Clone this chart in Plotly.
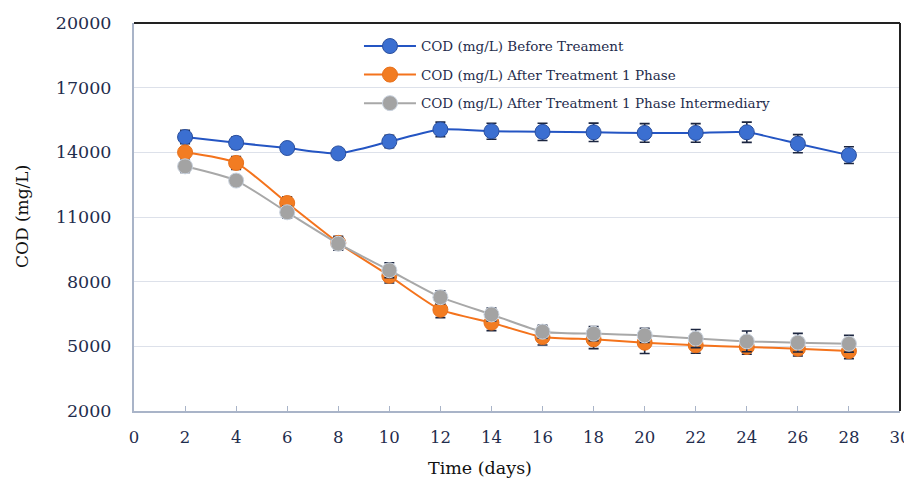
import plotly.graph_objects as go

days = [2, 4, 6, 8, 10, 12, 14, 16, 18, 20, 22, 24, 26, 28]

before = [14710, 14440, 14200, 13950, 14500, 15060, 14980, 14950, 14930, 14900, 14900, 14930, 14400, 13870]
before_err = [310, 270, 120, 100, 290, 340, 370, 400, 425, 430, 430, 470, 420, 390]

after1 = [14000, 13510, 11650, 9800, 8270, 6700, 6100, 5430, 5325, 5170, 5050, 4970, 4890, 4780]
after1_err = [250, 300, 290, 300, 330, 370, 370, 370, 430, 500, 370, 340, 340, 350]

inter = [13350, 12690, 11220, 9760, 8530, 7280, 6480, 5680, 5590, 5510, 5360, 5230, 5170, 5120]
inter_err = [280, 210, 280, 300, 350, 300, 300, 300, 325, 325, 420, 480, 430, 390]

names = [
    "COD (mg/L) Before Treament",
    "COD (mg/L) After Treatment 1 Phase",
    "COD (mg/L) After Treatment 1 Phase Intermediary",
]
y_ticks = [2000, 5000, 8000, 11000, 14000, 17000, 20000]
y_tick_text = ["2000", "5000", "8000", "11000", "14000", "17000", "20000"]
x_ticks = list(range(0, 31, 2))

FONT = "DejaVu Serif"
TEXT = "#1f2d4d"

series = [
    (before, before_err, "#2455c3", "#3b6fd1", "#2a4f9e"),
    (after1, after1_err, "#f4731c", "#f27c22", "#e8701a"),
    (inter, inter_err, "#a8a8a8", "#a3a3a3", "#c9d2de"),
]

fig = go.Figure()
for i, (name, (vals, err, lc, mc, ml)) in enumerate(zip(names, series)):
    fig.add_trace(go.Scatter(
        x=days, y=vals, name=name, mode="lines+markers", legendgroup=f"g{i}",
        line=dict(color=lc, width=2, shape="spline", smoothing=0.6),
        marker=dict(size=15, color=mc, line=dict(color=ml, width=1)),
        error_y=dict(type="data", array=err, visible=True, color="#1c2640", thickness=1.6, width=5),
    ))

fig.update_layout(
    width=904, height=471,
    margin=dict(l=126, r=12, t=15, b=68),
    paper_bgcolor="white", plot_bgcolor="white",
    font=dict(family=FONT, size=16, color=TEXT),
    showlegend=True,
    legend=dict(x=0.2937, y=0.98, xanchor="left", yanchor="top",
                bgcolor="rgba(0,0,0,0)", font=dict(size=13.5, color=TEXT),
                tracegroupgap=8, itemwidth=52),
    xaxis=dict(range=[0, 30], tickvals=x_ticks, showgrid=False, automargin=False,
               showline=True, linecolor="#a9b4c8", linewidth=2,
               ticks="inside", ticklen=5, tickcolor="#a9b4c8", zeroline=False,
               ticklabelstandoff=10,
               tickfont=dict(size=16.5, color=TEXT)),
    yaxis=dict(range=[2000, 20000], tickvals=y_ticks, ticktext=y_tick_text, automargin=False,
               showgrid=True, gridcolor="#dde1ea", gridwidth=1,
               showline=True, linecolor="#a9b4c8", linewidth=2, zeroline=False,
               ticks="", ticklabelstandoff=17, tickfont=dict(size=17.5, color=TEXT)),
    shapes=[
        dict(type="line", xref="paper", yref="paper", x0=0, x1=1, y0=1, y1=1,
             line=dict(color="#222222", width=2)),
        dict(type="line", xref="paper", yref="paper", x0=1, x1=1, y0=0, y1=1,
             line=dict(color="#222222", width=2)),
    ],
    annotations=[
        dict(text="Time (days)", xref="paper", yref="paper", x=0.452, y=0, yshift=-69,
             xanchor="center", yanchor="bottom", showarrow=False,
             font=dict(size=17.5, color="#111111")),
        dict(text="COD (mg/L)", xref="paper", yref="paper", x=0, y=0.5, xshift=-112,
             xanchor="center", yanchor="middle", textangle=-90, showarrow=False,
             font=dict(size=17, color="#111111")),
    ],
)

fig.write_html("out.html")
